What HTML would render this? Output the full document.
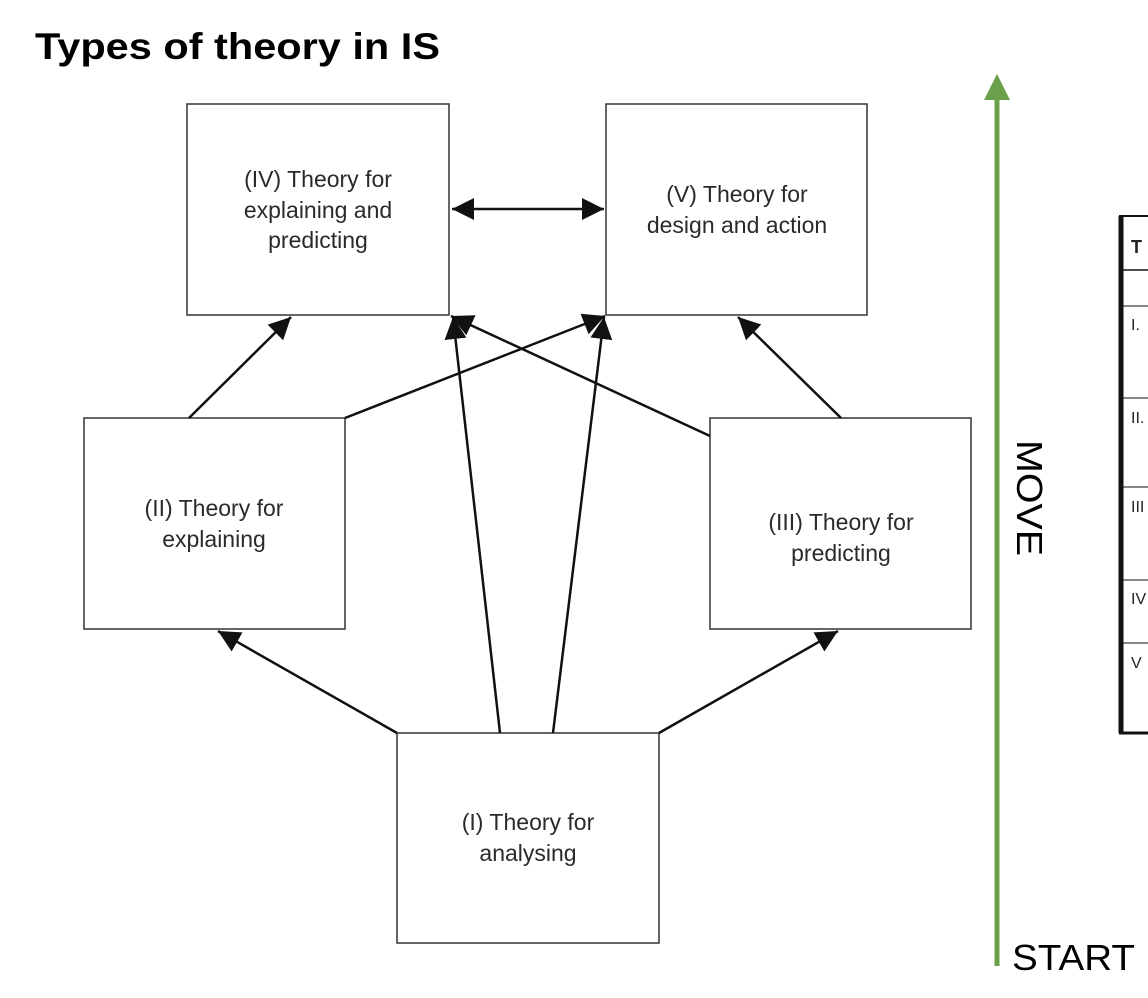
<!DOCTYPE html>
<html><head><meta charset="utf-8"><style>
html,body{margin:0;padding:0;background:#fff;}
svg{display:block;}
.t{font-family:"Liberation Sans",Arial,sans-serif;font-size:23px;fill:#2a2a2a;text-anchor:middle;}
</style></head><body>
<svg width="1148" height="998" viewBox="0 0 1148 998" xmlns="http://www.w3.org/2000/svg">
<defs>
<marker id="a" viewBox="0 0 10 10" refX="10" refY="5" markerWidth="22" markerHeight="22" markerUnits="userSpaceOnUse" orient="auto-start-reverse">
<path d="M0,0 L10,5 L0,10 z" fill="#111"/></marker>
</defs>
<text x="35" y="59" font-family="Liberation Sans,Arial,sans-serif" font-weight="bold" font-size="37" textLength="405" lengthAdjust="spacingAndGlyphs" fill="#000">Types of theory in IS</text>
<g fill="#fff" stroke="#333" stroke-width="1.5">
<rect x="187" y="104" width="262" height="211"/>
<rect x="606" y="104" width="261" height="211"/>
<rect x="84" y="418" width="261" height="211"/>
<rect x="710" y="418" width="261" height="211"/>
<rect x="397" y="733" width="262" height="210"/>
</g>
<g stroke="#111" stroke-width="2.5" fill="none" marker-end="url(#a)">
<line x1="452" y1="209" x2="604" y2="209" marker-start="url(#a)"/>
<line x1="189" y1="418" x2="291" y2="317"/>
<line x1="345" y1="418" x2="605" y2="316"/>
<line x1="710" y1="436" x2="451" y2="316"/>
<line x1="841" y1="418" x2="738" y2="317"/>
<line x1="500" y1="733" x2="453" y2="317"/>
<line x1="553" y1="733" x2="604" y2="317"/>
<line x1="397" y1="733" x2="218" y2="631"/>
<line x1="659" y1="733" x2="838" y2="631"/>
</g>
<text class="t" x="318" y="187">(IV) Theory for</text>
<text class="t" x="318" y="218">explaining and</text>
<text class="t" x="318" y="248">predicting</text>
<text class="t" x="737" y="202">(V) Theory for</text>
<text class="t" x="737" y="233">design and action</text>
<text class="t" x="214" y="516">(II) Theory for</text>
<text class="t" x="214" y="547">explaining</text>
<text class="t" x="841" y="530">(III) Theory for</text>
<text class="t" x="841" y="561">predicting</text>
<text class="t" x="528" y="830">(I) Theory for</text>
<text class="t" x="528" y="861">analysing</text>
<!-- green arrow -->
<line x1="997" y1="966" x2="997" y2="95" stroke="#6aa04a" stroke-width="5"/>
<path d="M984,100 L997,74 L1010,100 z" fill="#6aa04a"/>
<text x="0" y="0" transform="translate(1017,440) rotate(90)" font-family="Liberation Sans,Arial,sans-serif" font-size="36" fill="#000" textLength="116" lengthAdjust="spacingAndGlyphs">MOVE</text>
<text x="1012" y="970" font-family="Liberation Sans,Arial,sans-serif" font-size="36" fill="#000" textLength="123" lengthAdjust="spacingAndGlyphs">START</text>
<!-- table fragment -->
<g stroke="#111" fill="none">
<line x1="1119" y1="216" x2="1148" y2="216" stroke-width="2"/>
<line x1="1121" y1="216" x2="1121" y2="733" stroke-width="5"/>
<line x1="1119" y1="733" x2="1148" y2="733" stroke-width="3"/>
<line x1="1123" y1="270" x2="1148" y2="270" stroke-width="1.5"/>
<line x1="1123" y1="306" x2="1148" y2="306" stroke-width="1"/>
<line x1="1123" y1="398" x2="1148" y2="398" stroke-width="1"/>
<line x1="1123" y1="487" x2="1148" y2="487" stroke-width="1"/>
<line x1="1123" y1="580" x2="1148" y2="580" stroke-width="1"/>
<line x1="1123" y1="643" x2="1148" y2="643" stroke-width="1"/>
</g>
<g font-family="Liberation Sans,Arial,sans-serif" font-size="16" fill="#222">
<text x="1131" y="253" font-weight="bold" font-size="18">T</text>
<text x="1131" y="330">I.</text>
<text x="1131" y="423">II.</text>
<text x="1131" y="512">III</text>
<text x="1131" y="604">IV</text>
<text x="1131" y="668">V</text>
</g>
</svg>
</body></html>
